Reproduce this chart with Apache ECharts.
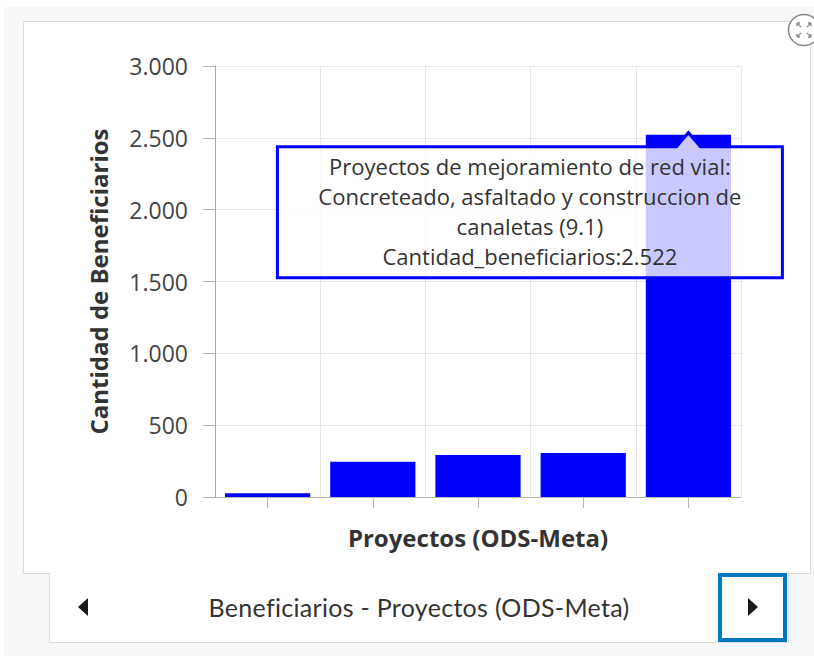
<!DOCTYPE html>
<html>
<head>
<meta charset="utf-8">
<script src="https://cdn.jsdelivr.net/npm/echarts@6/dist/echarts.min.js"></script>
<style>
html,body{margin:0;padding:0;width:814px;height:656px;background:#fff;overflow:hidden;font-family:Lato,'Open Sans',sans-serif;}
#bg{position:absolute;left:4px;top:7px;right:0;bottom:0;background:#f7f7f7;}
#panel{position:absolute;left:23px;top:21px;width:788px;height:553px;background:#fff;border:1px solid #dcdcdc;box-sizing:border-box;}
#nav{position:absolute;left:49px;top:573px;width:740px;height:70px;background:#fff;border:1px solid #dcdcdc;border-top:none;box-sizing:border-box;}
#navtitle{position:absolute;left:49px;top:573px;width:740px;height:68px;line-height:68px;text-align:center;font-size:25px;letter-spacing:0.3px;color:#333;}
#btn{position:absolute;left:718px;top:573px;width:69px;height:69px;border:4px solid #0079c1;box-sizing:border-box;background:#fff;}
#larrow{position:absolute;left:78px;top:598px;width:0;height:0;border-right:10px solid #1a1a1a;border-top:9px solid transparent;border-bottom:9px solid transparent;}
#rarrow{position:absolute;left:748px;top:598px;width:0;height:0;border-left:10px solid #1a1a1a;border-top:9px solid transparent;border-bottom:9px solid transparent;}
#expand{position:absolute;left:787px;top:13px;}
#chart{position:absolute;left:0;top:0;width:814px;height:656px;}
</style>
</head>
<body>
<div id="bg"></div>
<div id="panel"></div>
<div id="nav"></div>
<div id="navtitle">Beneficiarios - Proyectos (ODS-Meta)</div>
<div id="larrow"></div>
<div id="btn"></div>
<div id="rarrow"></div>
<svg id="expand" width="36" height="36" viewBox="0 0 36 36">
  <circle cx="17" cy="17" r="15.5" fill="#fff" stroke="#8a8a8a" stroke-width="1.6"/>
  <g stroke="#8a8a8a" stroke-width="1.3" fill="none">
    <path d="M10 10 L14 14 M10 10 L10 13 M10 10 L13 10"/>
    <path d="M24 10 L20 14 M24 10 L24 13 M24 10 L21 10"/>
    <path d="M10 24 L14 20 M10 24 L10 21 M10 24 L13 24"/>
    <path d="M24 24 L20 20 M24 24 L24 21 M24 24 L21 24"/>
  </g>
</svg>
<div id="chart"></div>
<script>
// ---- data ----
const tooltipTitleLines = [
  'Proyectos de mejoramiento de red vial:',
  'Concreteado, asfaltado y construccion de',
  'canaletas (9.1)'
];
const categories = [
  'Proyecto 1',
  'Proyecto 2',
  'Proyecto 3',
  'Proyecto 4',
  tooltipTitleLines.join(' ')
];
const values = [26, 246, 292, 306, 2522];
const yTicks = [0, 500, 1000, 1500, 2000, 2500, 3000];
const highlightedIndex = 4;
const valueFieldName = 'Cantidad_beneficiarios';

function fmt(v) {
  return String(v).replace(/\B(?=(\d{3})+(?!\d))/g, '.');
}

(function () {
  const chart = echarts.init(document.getElementById('chart'), null, {renderer: 'svg'});
  const FONT = '"Open Sans", Lato, sans-serif';

  chart.setOption({
    animation: false,
    backgroundColor: 'transparent',
    grid: {left: 215, right: 73, top: 66, bottom: 159},
    xAxis: {
      type: 'category',
      data: categories,
      name: 'Proyectos (ODS-Meta)',
      nameLocation: 'middle',
      nameGap: 28,
      nameTextStyle: {fontSize: 24, fontWeight: 'bold', color: '#333', fontFamily: FONT},
      axisLine: {lineStyle: {color: '#b4b4b4', width: 1}},
      axisTick: {show: true, interval: 0, alignWithLabel: true, length: 11, lineStyle: {color: '#b4b4b4'}},
      axisLabel: {show: false, interval: 0},
      splitLine: {show: true, interval: 0, lineStyle: {color: '#e6e6e6', width: 1}}
    },
    yAxis: {
      type: 'value',
      min: yTicks[0],
      max: yTicks[yTicks.length - 1],
      interval: yTicks[1] - yTicks[0],
      name: 'Cantidad de Beneficiarios',
      nameLocation: 'middle',
      nameRotate: 90,
      nameGap: 105,
      nameTextStyle: {fontSize: 24, fontWeight: 'bold', color: '#333', fontFamily: FONT},
      axisLine: {show: true, lineStyle: {color: '#a8a8a8', width: 1}},
      axisTick: {show: true, length: 12, lineStyle: {color: '#b4b4b4'}},
      axisLabel: {margin: 27, fontSize: 23, color: '#444', fontFamily: FONT, formatter: fmt},
      splitLine: {show: true, lineStyle: {color: '#e6e6e6', width: 1}}
    },
    series: [{
      type: 'bar',
      data: values,
      barCategoryGap: '19%',
      itemStyle: {color: '#0000ff'}
    }]
  });

  // tooltip-like callout anchored on the highlighted bar
  const p = chart.convertToPixel({seriesIndex: 0}, [highlightedIndex, values[highlightedIndex]]);
  const cx = p[0], cy = p[1];
  const boxL = cx - 411, boxR = cx + 94;
  const boxT = cy + 12, boxB = boxT + 131;
  const tipY = cy - 2;
  chart.setOption({
    graphic: [{
      type: 'polygon',
      z: 100,
      shape: {points: [
        [boxL, boxT], [cx - 12, boxT], [cx, tipY], [cx + 12, boxT],
        [boxR, boxT], [boxR, boxB], [boxL, boxB]
      ]},
      style: {fill: 'rgba(255,255,255,0.79)', stroke: '#0000ff', lineWidth: 3, lineJoin: 'miter'}
    }, {
      type: 'text',
      z: 101,
      x: (boxL + boxR) / 2,
      y: (boxT + boxB) / 2 - 1,
      style: {
        text: tooltipTitleLines.concat([valueFieldName + ':' + fmt(values[highlightedIndex])]).join('\n'),
        fill: '#333',
        fontSize: 22,
        fontFamily: FONT,
        lineHeight: 30,
        align: 'center',
        verticalAlign: 'middle'
      }
    }]
  });
})();
</script>
</body>
</html>
